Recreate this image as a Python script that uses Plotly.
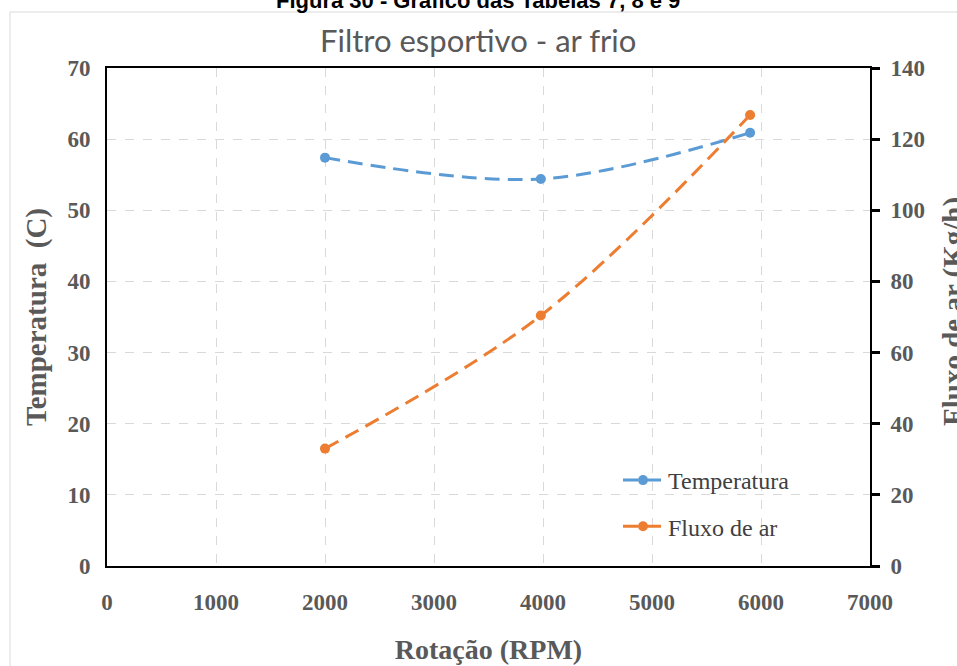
import plotly.graph_objects as go

rpm = [2000, 3980, 5900]
temperatura = [57.4, 54.4, 60.9]
fluxo = [33.0, 70.4, 126.8]

x_ticks = [0, 1000, 2000, 3000, 4000, 5000, 6000, 7000]
y1_ticks = [0, 10, 20, 30, 40, 50, 60, 70]
y2_ticks = [0, 20, 40, 60, 80, 100, 120, 140]

BLUE = "#5B9BD5"
ORANGE = "#ED7D31"
GRAY = "#595959"
SERIF = "Liberation Serif, Times New Roman, serif"
DASH = "15px,8px"

fig = go.Figure()
fig.add_trace(go.Scatter(
    x=rpm, y=temperatura, name="Temperatura", mode="lines+markers",
    line=dict(color=BLUE, width=3, dash=DASH, shape="spline"),
    marker=dict(color=BLUE, size=10), legendgroup="a"))
fig.add_trace(go.Scatter(
    x=rpm, y=fluxo, name="Fluxo de ar", mode="lines+markers", yaxis="y2",
    line=dict(color=ORANGE, width=3, dash=DASH, shape="spline"),
    marker=dict(color=ORANGE, size=10), legendgroup="b"))

L, R, T, B = 107, 87, 68, 100
W, H = 957, 666
pw = W - L - R
ph = H - T - B

def px(xp):
    return (xp - L) / pw

def py(yp):
    return (H - B - yp) / ph

fig.update_layout(
    width=W, height=H,
    margin=dict(l=L, r=R, t=T, b=B, pad=0, autoexpand=False),
    paper_bgcolor="white", plot_bgcolor="white",
    showlegend=True,
    legend=dict(x=px(618), y=py(458), xanchor="left", yanchor="top",
                bgcolor="rgba(0,0,0,0)", tracegroupgap=12,
                font=dict(family=SERIF, size=24, color="#404040"),
                itemwidth=40),
    xaxis=dict(range=[0, 7000], tickvals=x_ticks, ticktext=[str(v) for v in x_ticks],
               showgrid=True, gridcolor="#d9d9d9", griddash="dash", gridwidth=1,
               showline=True, linecolor="black", linewidth=2, mirror=True,
               zeroline=False, ticks="", ticklabelstandoff=14, automargin=False,
               tickfont=dict(family=SERIF, size=23, color=GRAY, weight="bold"),
               title=dict(text="<b>Rotação (RPM)</b>", standoff=26,
                          font=dict(family=SERIF, size=28, color=GRAY))),
    yaxis=dict(range=[0, 70], tickvals=y1_ticks,
               showgrid=True, gridcolor="#d9d9d9", griddash="dash", gridwidth=1,
               showline=True, linecolor="black", linewidth=2, mirror=True,
               zeroline=False, ticks="", ticklabelstandoff=10, automargin=False,
               tickfont=dict(family=SERIF, size=23, color=GRAY, weight="bold"),
               title=dict(text="<b>Temperatura  (C)</b>", standoff=12,
                          font=dict(family=SERIF, size=29, color=GRAY))),
    yaxis2=dict(range=[0, 140], tickvals=y2_ticks, overlaying="y", side="right",
                showgrid=False, zeroline=False, showline=True, linecolor="black",
                linewidth=2, ticks="outside", ticklen=8, tickwidth=3, tickcolor="black",
                ticklabelstandoff=6, automargin=False,
                tickfont=dict(family=SERIF, size=23, color=GRAY, weight="bold")),
)

fig.add_annotation(text="<b>Fluxo de ar (Kg/h)</b>", textangle=-90,
                   xref="paper", yref="paper", x=px(953), y=py(312),
                   xanchor="center", yanchor="middle", showarrow=False,
                   font=dict(family=SERIF, size=29, color=GRAY))
fig.add_annotation(text="Filtro esportivo - ar frio",
                   xref="paper", yref="paper", x=px(478), y=py(40),
                   xanchor="center", yanchor="middle", showarrow=False,
                   font=dict(family="Lato, sans-serif", size=31, color=GRAY))
fig.add_annotation(text="<b>Figura 30 - Gráfico das Tabelas 7, 8 e 9</b>",
                   xref="paper", yref="paper", x=px(478), y=py(0),
                   xanchor="center", yanchor="middle", showarrow=False,
                   font=dict(family="Liberation Sans, Arial, sans-serif", size=22, color="black"))
fig.add_shape(type="rect", xref="paper", yref="paper",
              x0=px(10), x1=px(1000), y0=py(720), y1=py(12),
              line=dict(color="#d9d9d9", width=1), fillcolor="rgba(0,0,0,0)", layer="below")

fig.write_html("out.html")
